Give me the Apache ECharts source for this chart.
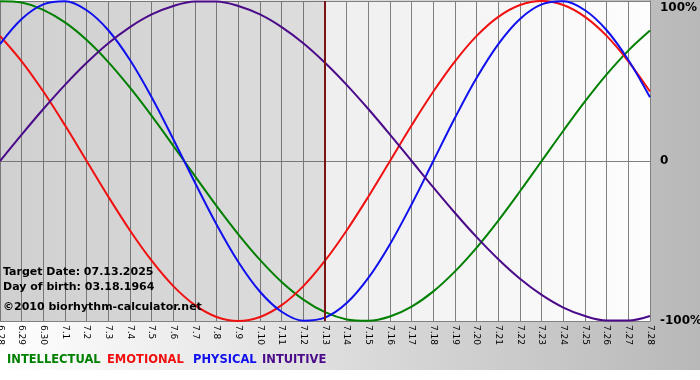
<!DOCTYPE html>
<html>
<head>
<meta charset="utf-8">
<script src="https://cdn.jsdelivr.net/npm/echarts@6/dist/echarts.min.js"></script>
<style>html,body{margin:0;padding:0;background:#fff}#c{width:700px;height:380px}</style>
</head>
<body>
<div id="c"></div>
<script>
var days = ['6.28','6.29','6.30','7.1','7.2','7.3','7.4','7.5','7.6','7.7','7.8','7.9','7.10','7.11','7.12','7.13','7.14','7.15','7.16','7.17','7.18','7.19','7.20','7.21','7.22','7.23','7.24','7.25','7.26','7.27','7.28'];
var intellectual = [0.999,0.990,0.945,0.866,0.756,0.618,0.458,0.282,0.095,-0.095,-0.282,-0.458,-0.618,-0.756,-0.866,-0.945,-0.990,-0.999,-0.972,-0.910,-0.815,-0.690,-0.541,-0.372,-0.189,0.000,0.189,0.372,0.541,0.690,0.815];
var emotional = [0.782,0.623,0.434,0.223,0.000,-0.223,-0.434,-0.623,-0.782,-0.901,-0.975,-1.000,-0.975,-0.901,-0.782,-0.623,-0.434,-0.223,0.000,0.223,0.434,0.623,0.782,0.901,0.975,1.000,0.975,0.901,0.782,0.623,0.434];
var physical = [0.731,0.888,0.979,0.998,0.942,0.817,0.631,0.398,0.136,-0.136,-0.398,-0.631,-0.817,-0.942,-0.998,-0.979,-0.888,-0.731,-0.520,-0.270,0.000,0.270,0.520,0.731,0.888,0.979,0.998,0.942,0.817,0.631,0.398];
var intuitive = [0.000,0.165,0.325,0.476,0.614,0.736,0.837,0.916,0.969,0.997,0.997,0.969,0.916,0.837,0.736,0.614,0.476,0.325,0.165,0.000,-0.165,-0.325,-0.476,-0.614,-0.736,-0.837,-0.916,-0.969,-0.997,-0.997,-0.969];
var targetDay = '7.13';
var yTickLabels = {'1':'100%','0':'0','-1':'-100%'};
var infoLines = ['Target Date: 07.13.2025','Day of birth: 03.18.1964','\u00a92010 biorhythm-calculator.net'];
var legendNames = ['INTELLECTUAL','EMOTIONAL','PHYSICAL','INTUITIVE'];
var colors = ['#008000','#f01010','#1010ee','#4b0a8a'];

var chart = echarts.init(document.getElementById('c'));
var FONT = 'DejaVu Sans';
function mkSeries(name, data, color, extra) {
  var s = {
    name: name, type: 'line', data: data, smooth: 0.35, showSymbol: false,
    lineStyle: {color: color, width: 2}, itemStyle: {color: color}, silent: true, z: 3
  };
  if (extra) for (var k in extra) s[k] = extra[k];
  return s;
}
var legendX = [7, 107, 193, 262];
var graphics = [
  {type:'rect', z:-10, silent:true, shape:{x:0,y:0,width:700,height:370},
   style:{fill:new echarts.graphic.LinearGradient(0,0,1,0,[{offset:0,color:'#ffffff'},{offset:1,color:'#b8b8b8'}])}}
];
infoLines.forEach(function(t, i){
  graphics.push({type:'text', left:3, top:[267,282,302][i], z:10, silent:true,
    style:{text:t, fill:'#000', font:'bold 11px "DejaVu Sans"'}});
});
legendNames.forEach(function(t, i){
  graphics.push({type:'text', left:legendX[i], top:354, z:10, silent:true,
    style:{text:t, fill:colors[i], font:'bold 11.5px "DejaVu Sans"'}});
});

chart.setOption({
  animation: false,
  backgroundColor: 'transparent',
  graphic: graphics,
  grid: {left: 0, top: 1, width: 650, height: 320, show: true, borderWidth: 0,
    outerBoundsMode: 'none', containLabel: false,
    backgroundColor: new echarts.graphic.LinearGradient(0,0,1,0,[{offset:0,color:'#e0e0e0'},{offset:1,color:'#fdfdfd'}])},
  xAxis: {
    type: 'category', data: days, boundaryGap: false,
    axisLine: {show: true, lineStyle: {color: '#808080', width: 1}},
    axisTick: {show: true, interval: 0, length: 3, lineStyle: {color: '#808080'}},
    axisLabel: {interval: 0, rotate: -90, fontSize: 9, fontFamily: FONT, color: '#000', margin: 4},
    splitLine: {show: true, interval: 0, lineStyle: {color: '#808080', width: 1}}
  },
  yAxis: {
    type: 'value', position: 'right', min: -1, max: 1, interval: 1,
    axisLine: {show: true, lineStyle: {color: '#808080'}},
    axisTick: {show: false},
    axisLabel: {fontSize: 12, fontWeight: 'bold', fontFamily: FONT, color: '#000', margin: 10,
      formatter: function(v){
        var s = yTickLabels[String(Math.round(v))];
        return v > 0.5 ? '{t|' + s + '}' : s;
      },
      rich: {t: {fontSize: 12, fontWeight: 'bold', fontFamily: FONT, color: '#000', padding: [13, 0, 0, 0]}}
    },
    splitLine: {show: true, lineStyle: {color: '#808080', width: 1}}
  },
  series: [
    mkSeries(legendNames[0], intellectual, colors[0], {
      markArea: {silent: true, itemStyle: {color: 'rgba(0,0,0,0.07)'}, data: [[{xAxis: days[0]}, {xAxis: targetDay}]]},
      markLine: {silent: true, symbol: ['none','none'], label: {show: false},
        lineStyle: {color: '#7a1515', width: 2, type: 'solid'}, data: [{xAxis: targetDay}]}
    }),
    mkSeries(legendNames[1], emotional, colors[1]),
    mkSeries(legendNames[2], physical, colors[2]),
    mkSeries(legendNames[3], intuitive, colors[3])
  ]
});
</script>
</body>
</html>
